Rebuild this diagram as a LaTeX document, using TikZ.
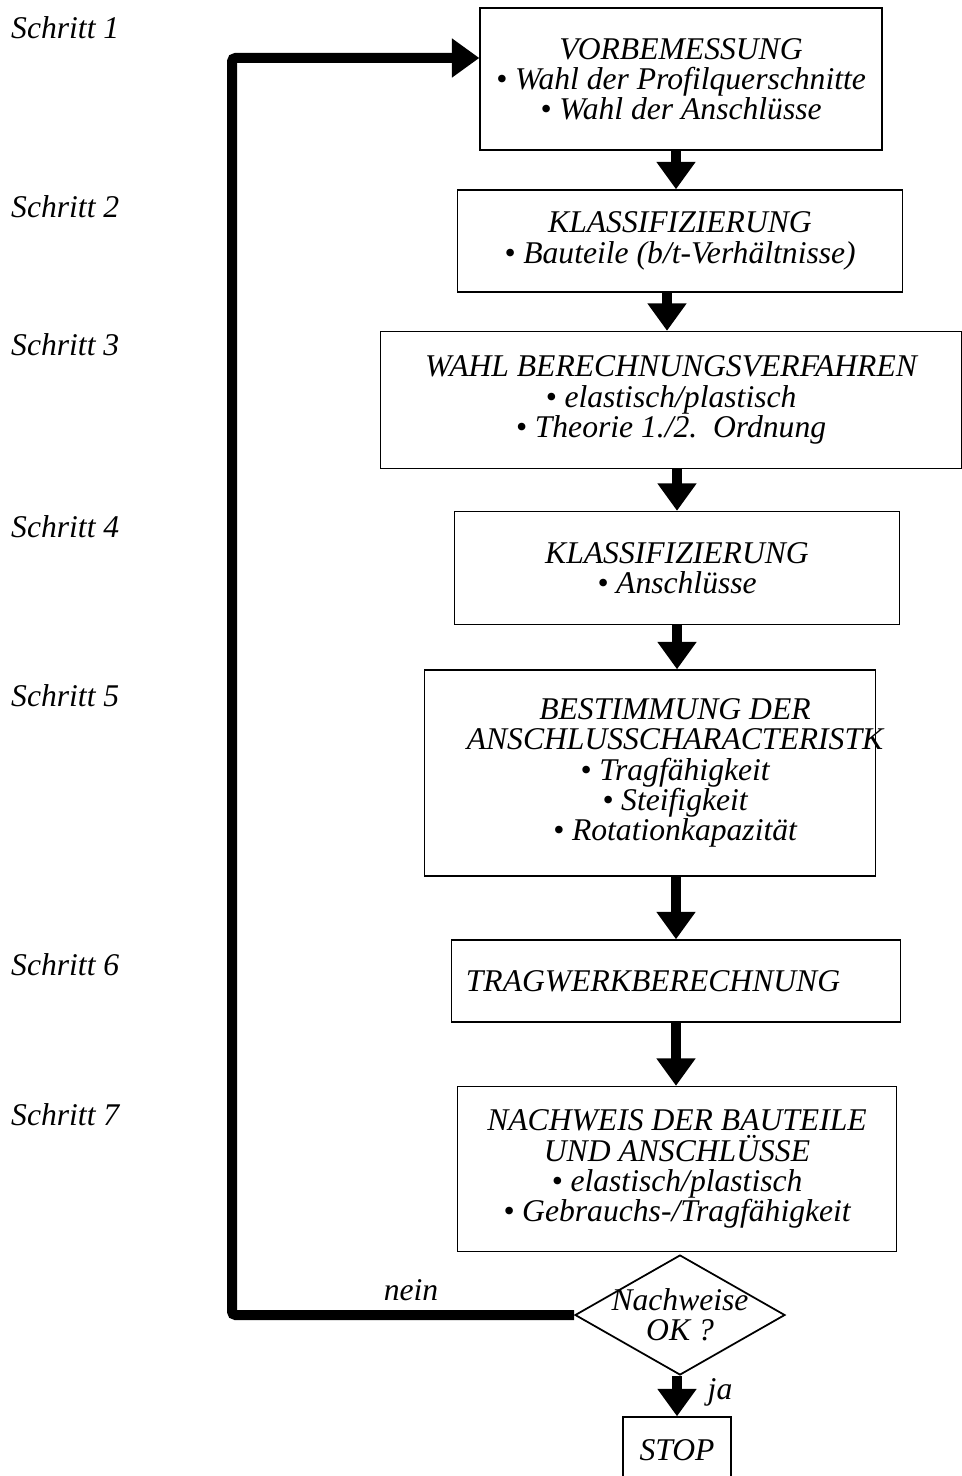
\documentclass[tikz,border=0pt]{standalone}
\usepackage{fontspec}
\setmainfont{Liberation Serif}
\usepackage{tikz}
\usetikzlibrary{shapes.geometric,arrows.meta,positioning}

\begin{document}
\begin{tikzpicture}[x=0.02cm,y=-0.02cm,
	font=\itshape\fontsize{18}{17.2}\selectfont,
	box/.style={draw,line width=0.8pt,align=center,inner sep=0pt},
	flow/.style={line width=0.2cm,-{Triangle[length=0.55cm,width=0.75cm]}},
	steplabel/.style={anchor=west}]

\useasboundingbox (0,0) rectangle (962,1476);

\node[steplabel] (s1) at (5,28) {Schritt 1};
\node[steplabel] (s2) at (5,207) {Schritt 2};
\node[steplabel] (s3) at (5,345) {Schritt 3};
\node[steplabel] (s4) at (5,527) {Schritt 4};
\node[steplabel] (s5) at (5,696) {Schritt 5};
\node[steplabel] (s6) at (5,965) {Schritt 6};
\node[steplabel] (s7) at (5,1115) {Schritt 7};

\node[box,minimum width=8.04cm,minimum height=2.84cm] (vorbem) at (681,79)
	{VORBEMESSUNG\\ • Wahl der Profilquerschnitte\\ • Wahl der Anschlüsse};
\node[box,minimum width=8.9cm,minimum height=2.04cm] (klass1) at (680,241)
	{KLASSIFIZIERUNG\\ • Bauteile (b/t-Verhältnisse)};
\node[box,minimum width=11.62cm,minimum height=2.74cm] (wahl) at (671,400)
	{WAHL BERECHNUNGSVERFAHREN\\ • elastisch/plastisch\\ • Theorie 1./2.\ \ Ordnung};
\node[box,minimum width=8.9cm,minimum height=2.26cm] (klass2) at (677,568)
	{KLASSIFIZIERUNG\\ • Anschlüsse};
\node[box,minimum width=9.02cm,minimum height=4.12cm] (bestimm) at (650,773) {};
\node[align=center] (bestimmtxt) at (675,773)
	{BESTIMMUNG DER\\ ANSCHLUSSCHARACTERISTK\\ • Tragfähigkeit\\ • Steifigkeit\\ • Rotationkapazität};
\node[box,minimum width=8.98cm,minimum height=1.64cm] (tragwerk) at (676,981) {};
\node (tragwerktxt) at (653,981) {TRAGWERKBERECHNUNG};
\node[box,minimum width=8.78cm,minimum height=3.3cm] (nachweis) at (677,1169)
	{NACHWEIS DER BAUTEILE\\ UND ANSCHLÜSSE\\ • elastisch/plastisch\\ • Gebrauchs-/Tragfähigkeit};
\node[draw,diamond,line width=1pt,shape aspect=1.75,minimum width=4.2cm,minimum height=2.4cm,
	inner sep=-4pt,align=center] (okcheck) at (680,1315) {Nachweise\\ OK ?};
\node[box,minimum width=2.16cm,minimum height=1.32cm] (stop) at (677,1450) {STOP};

\draw[flow] ([xshift=-0.1cm]vorbem.south) -- ([xshift=-0.1cm]vorbem.south |- klass1.north);
\draw[flow] ([xshift=-0.26cm]klass1.south) -- ([xshift=-0.26cm]klass1.south |- wahl.north);
\draw[flow] (klass2.north |- wahl.south) -- (klass2.north);
\draw[flow] (klass2.south) -- (klass2.south |- bestimm.north);
\draw[flow] (tragwerk.north |- bestimm.south) -- (tragwerk.north);
\draw[flow] (tragwerk.south) -- (tragwerk.south |- nachweis.north);
\draw[flow] (stop.north |- okcheck.south) -- (stop.north);
\node (ja) at (720,1392) {ja};

\coordinate (loopturn) at (232,58);
\draw[flow,rounded corners=2pt] (okcheck.west) -| (loopturn) -- (loopturn -| vorbem.west);
\node (nein) at (411,1290) {nein};

\end{tikzpicture}
\end{document}
